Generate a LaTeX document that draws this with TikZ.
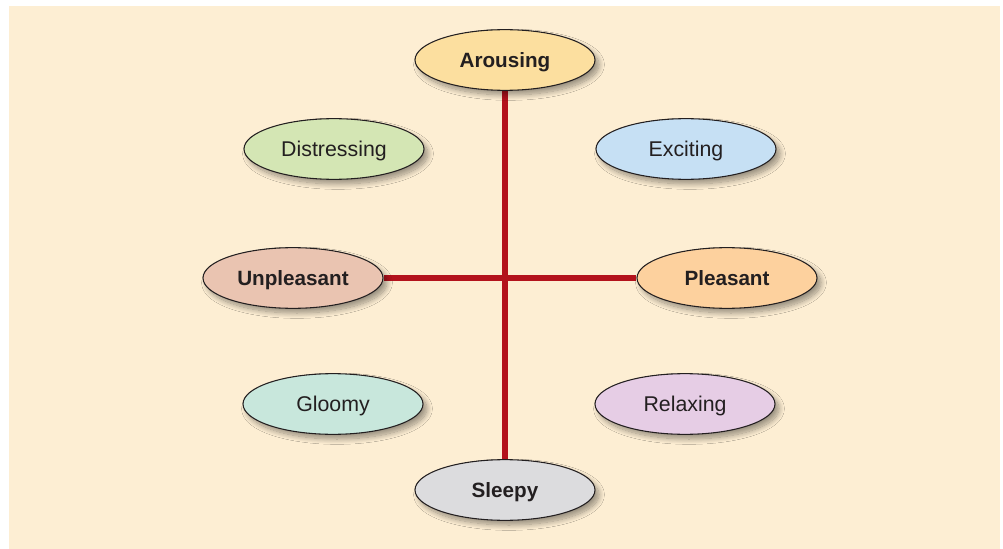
\documentclass[tikz,border=0pt]{standalone}
\usepackage{fontspec}
\setmainfont{Liberation Sans}
\usetikzlibrary{shapes.geometric,shadows.blur,backgrounds}

\definecolor{paper}{HTML}{FDEED3}
\definecolor{axisred}{HTML}{B3121C}
\definecolor{inkgray}{HTML}{231F20}
\definecolor{fillArousing}{HTML}{FCDF9F}
\definecolor{fillDistress}{HTML}{D4E6B4}
\definecolor{fillExcite}{HTML}{C6E0F4}
\definecolor{fillUnpleasant}{HTML}{EAC4B1}
\definecolor{fillPleasant}{HTML}{FDD19E}
\definecolor{fillGloomy}{HTML}{C8E7DC}
\definecolor{fillRelax}{HTML}{E6CDE5}
\definecolor{fillSleepy}{HTML}{DCDCDE}

\tikzset{
  mood/.style={ellipse, draw=inkgray, line width=0.8pt, inner sep=0pt,
    minimum width=135pt, minimum height=45.5pt, text=inkgray,
    text height=11.3pt, text depth=0pt,
    blur shadow={shadow xshift=3pt, shadow yshift=-3.5pt,
      shadow blur steps=12, shadow opacity=40, shadow blur radius=4pt}},
  axislabel/.style={mood, font=\fontsize{15.5pt}{18pt}\selectfont\bfseries},
  feeling/.style={mood, font=\fontsize{16pt}{19pt}\selectfont},
  axisline/.style={draw=axisred, line width=4.5pt}
}

\begin{document}
\begin{tikzpicture}[x=0.75pt,y=-0.75pt]
  \useasboundingbox (0,0) rectangle (1003,549);

  % axis ends
  \node[axislabel, fill=fillArousing]   (arousing)   at (505,60)  {Arousing};
  \node[axislabel, fill=fillSleepy]     (sleepy)     at (505,490) {Sleepy};
  \node[axislabel, fill=fillUnpleasant] (unpleasant) at (293,278) {Unpleasant};
  \node[axislabel, fill=fillPleasant]   (pleasant)   at (727,278) {Pleasant};

  % quadrant feelings
  \node[feeling, fill=fillDistress] (distressing) at (334,149) {Distressing};
  \node[feeling, fill=fillExcite]   (exciting)    at (686,149) {Exciting};
  \node[feeling, fill=fillGloomy]   (gloomy)      at (333,404) {Gloomy};
  \node[feeling, fill=fillRelax]    (relaxing)    at (685,404) {Relaxing};

  \begin{scope}[on background layer]
    \fill[paper] (9,6) rectangle (1000,549);
    \draw[axisline] (arousing.south) -- (sleepy.north);
    \draw[axisline] (unpleasant.east) -- (pleasant.west);
  \end{scope}
\end{tikzpicture}
\end{document}
